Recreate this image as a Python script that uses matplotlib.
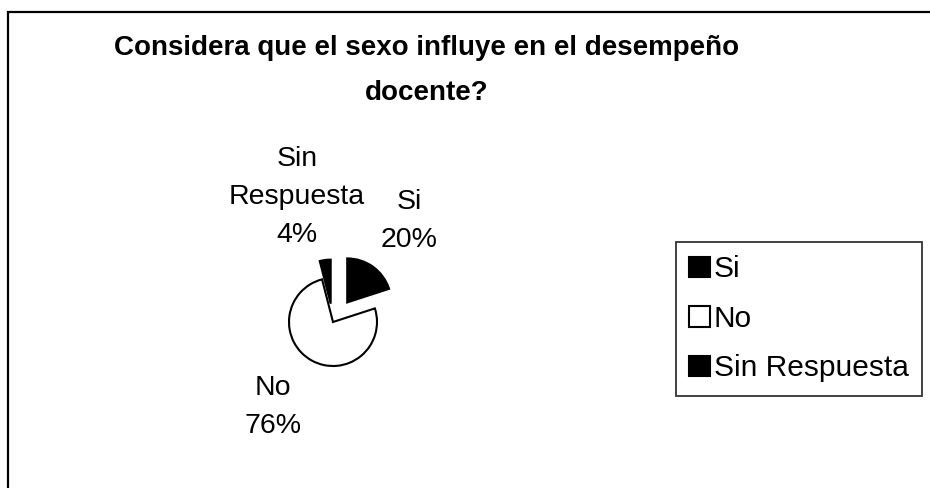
import matplotlib
matplotlib.use("Agg")
import matplotlib.pyplot as plt
from matplotlib.patches import Rectangle

categories = ["Si", "No", "Sin Respuesta"]
values = [20, 76, 4]
colors = ["black", "white", "black"]
explode = [0.55, 0.0, 0.42]
title_lines = ["Considera que el sexo influye en el desempeño", "docente?"]

plt.rcParams['font.family'] = ['Liberation Sans', 'DejaVu Sans']

fig = plt.figure(figsize=(9.30, 4.88), dpi=100)
W, H = 930, 488

# outer frame
fig.patches.append(Rectangle((8 / W, -0.01), 1.0, (H - 12) / H + 0.01, transform=fig.transFigure,
                             fill=False, edgecolor='black', linewidth=1.6))

fig.text(427 / W, 1 - 55 / H, title_lines[0], ha='center', va='baseline',
         fontsize=20, fontweight='bold')
fig.text(427 / W, 1 - 100 / H, title_lines[1], ha='center', va='baseline',
         fontsize=20, fontweight='bold')

# pie axes: radius ~44px centered at (333, 322)
r = 44
cx, cy = 333, 322
ax = fig.add_axes([(cx - 2 * r) / W, 1 - (cy + 2 * r) / H, 4 * r / W, 4 * r / H])

wedges, _ = ax.pie(values, colors=colors, explode=explode, startangle=90, counterclock=False,
                   radius=1.0, wedgeprops=dict(edgecolor='black', linewidth=1.5))
ax.set_xlim(-2, 2)
ax.set_ylim(-2, 2)
ax.set_aspect('equal')
ax.axis('off')

def px_to_data(x, y):
    return ((x - cx) / r, (cy - y) / r)

label_specs = [
    ("Si\n20%", 409, 221),
    ("No\n76%", 273, 407),
    ("Sin\nRespuesta\n4%", 297, 197),
]
for (txt, x, y) in label_specs:
    dx, dy = px_to_data(x, y)
    ax.text(dx, dy, txt, ha='center', va='center', fontsize=20.5, linespacing=1.6,
            clip_on=False)

leg = fig.legend(wedges, categories, loc='upper left', bbox_to_anchor=(676 / W, 1 - 242 / H),
                 frameon=True, fancybox=False, edgecolor='black', fontsize=21.5,
                 handlelength=0.7, handleheight=0.7, handletextpad=0.12,
                 labelspacing=0.72, borderpad=0.45, borderaxespad=0)
leg.get_frame().set_linewidth(1.3)

fig.savefig("out.png", dpi=100)
